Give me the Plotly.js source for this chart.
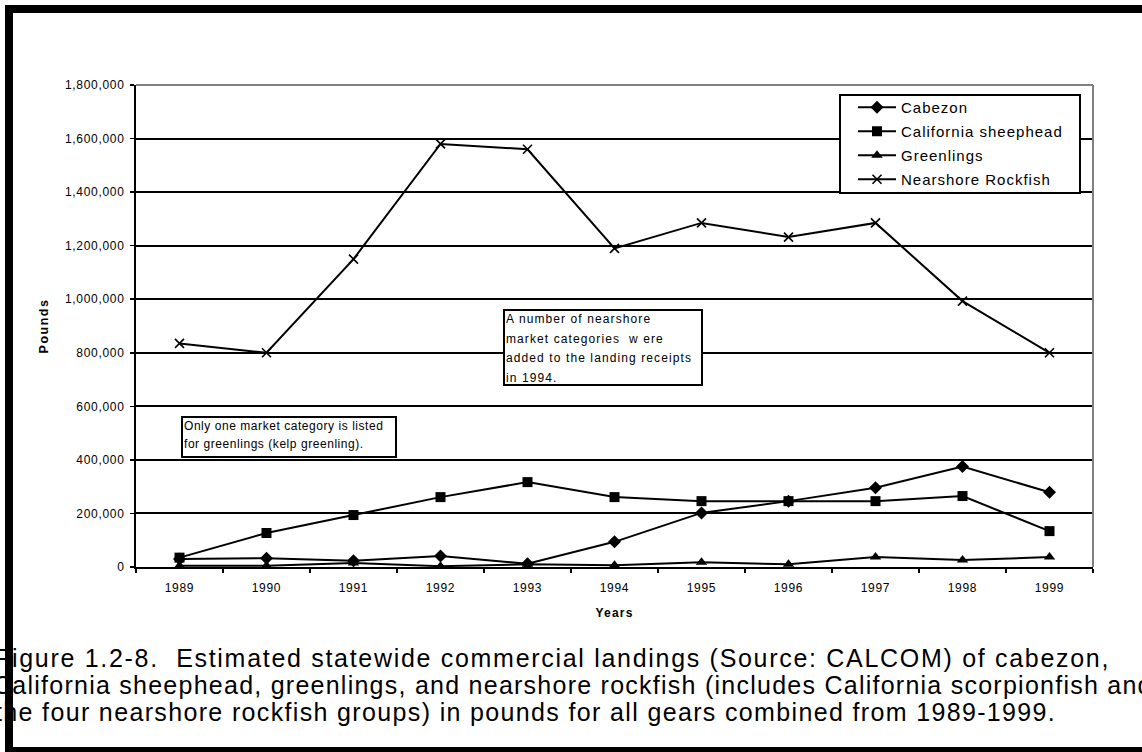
<!DOCTYPE html>
<html><head><meta charset="utf-8">
<script src="https://cdn.plot.ly/plotly-3.0.1.min.js"></script>
<style>
html,body{margin:0;padding:0;background:#fff;overflow:hidden;}
#wrap{position:relative;width:1142px;height:752px;overflow:hidden;}
#chart{position:absolute;left:0;top:0;width:1142px;height:752px;}
.bar{position:absolute;background:#000;pointer-events:none;z-index:10;}
.ytick text, .xtick text{letter-spacing:0.7px;}
</style></head><body>
<div id="wrap"><div id="chart"></div>
<div class="bar" style="left:5px;top:5px;width:1137px;height:8px"></div>
<div class="bar" style="left:5px;top:5px;width:8px;height:747px"></div>
<div class="bar" style="left:5px;top:747px;width:1137px;height:5px"></div>
</div>
<script>
var years = ['1989','1990','1991','1992','1993','1994','1995','1996','1997','1998','1999'];
var cabezon = [30000, 33000, 23000, 41000, 12000, 94000, 202000, 246000, 296000, 375000, 279000];
var sheephead = [35000, 127000, 194000, 261000, 317000, 261000, 246000, 246000, 246000, 265000, 134000];
var greenlings = [5000, 5000, 15000, 3000, 10000, 7000, 18000, 10000, 37000, 26000, 37000];
var rockfish = [835000, 800000, 1150000, 1580000, 1560000, 1190000, 1285000, 1232000, 1285000, 993000, 800000];
var seriesNames = ['Cabezon','California sheephead','Greenlings','Nearshore Rockfish'];
var yTicks = [0,200000,400000,600000,800000,1000000,1200000,1400000,1600000,1800000];
var note1 = ['A number of nearshore','market categories  w ere','added to the landing receipts','in 1994.'];
var note2 = ['Only one market category is listed','for greenlings (kelp greenling).'];
var caption = ['Figure 1.2-8.  Estimated statewide commercial landings (Source: CALCOM) of cabezon,',
  'California sheephead, greenlings, and nearshore rockfish (includes California scorpionfish and',
  'the four nearshore rockfish groups) in pounds for all gears combined from 1989-1999.'];

var FONT = 'Arial, "Liberation Sans", sans-serif';
function ls(s, v){return '<span style="letter-spacing:'+v+'px">'+s+'</span>';}
function tr(name, y, sym, size, grp){
  var m = {symbol: sym, size: size, color: '#000'};
  if (sym === 'x-thin') m.line = {width: 1.6, color: '#000'};
  return {x: years, y: y, name: ls(name, 1), type: 'scatter', mode: 'lines+markers',
    line: {color: '#000', width: 2}, marker: m, legendgroup: grp};
}
var data = [
  tr(seriesNames[0], cabezon, 'diamond', 10, 'a'),
  tr(seriesNames[1], sheephead, 'square', 10, 'b'),
  tr(seriesNames[2], greenlings, 'triangle-up', 10, 'c'),
  tr(seriesNames[3], rockfish, 'x-thin', 9, 'd')
];
var W = 957, H = 482, L = 136, T = 85;
function px(x){return (x - L)/W;}
function py(y){return (T + H - y)/H;}
function sp(lines, fs, v){
  return lines.map(function(s){return '<span style="font-size:'+fs+'px;letter-spacing:'+v+'px">'+s+'</span>';}).join('<br>');
}
var capSize = 25;
var capX = [-6, -8, -6];
var capLS = [1.7, 1.25, 1.35];
var capBase = [667, 694, 721];
var capAnn = caption.map(function(s, i){
  return {xref: 'paper', yref: 'paper', x: px(capX[i]), y: py(capBase[i] - 0.95*capSize), xanchor: 'left', yanchor: 'top',
    text: ls(s, capLS[i]), align: 'left', showarrow: false, borderpad: 0,
    font: {family: FONT, size: capSize, color: '#000'}};
});
var layout = {
  width: 1142, height: 752,
  margin: {l: L, r: 1142 - L - W, t: T, b: 752 - T - H, pad: 0},
  paper_bgcolor: '#fff', plot_bgcolor: '#fff',
  font: {family: FONT, color: '#000', size: 12},
  showlegend: true,
  legend: {x: px(853), y: py(91), xanchor: 'left', yanchor: 'top',
    bgcolor: 'rgba(0,0,0,0)', borderwidth: 0,
    font: {family: FONT, size: 15, color: '#000'}, tracegroupgap: 1.5, itemwidth: 38},
  xaxis: {type: 'category', range: [-0.5, 10.5], tickson: 'boundaries', ticks: 'outside',
    ticklen: 4, tickwidth: 1.5, tickcolor: '#000', showline: true, linecolor: '#000', linewidth: 2,
    showgrid: false, zeroline: false, tickfont: {family: FONT, size: 12, color: '#000'},
    ticklabelstandoff: 9,
    title: {text: '<b>' + ls('Years', 1.2) + '</b>', font: {family: FONT, size: 12, color: '#000'}, standoff: 14}},
  yaxis: {range: [0, 1800000], tickvals: yTicks, tickformat: ',d', ticks: 'outside', ticklen: 4,
    tickwidth: 1.5, tickcolor: '#000', showline: true, linecolor: '#000', linewidth: 2,
    showgrid: true, gridcolor: '#000', gridwidth: 2, zeroline: false,
    tickfont: {family: FONT, size: 12, color: '#000'}, ticklabelstandoff: 3,
    title: {text: '<b>' + ls('Pounds', 1.5) + '</b>', font: {family: FONT, size: 12.5, color: '#000'}, standoff: 14}},
  shapes: [
    {type: 'line', xref: 'paper', yref: 'paper', x0: 0, x1: 1, y0: 1, y1: 1, line: {color: '#808080', width: 2}, layer: 'above'},
    {type: 'line', xref: 'paper', yref: 'paper', x0: 1, x1: 1, y0: 0, y1: 1, line: {color: '#808080', width: 2}, layer: 'above'},
    {type: 'rect', xref: 'paper', yref: 'paper', x0: px(840), x1: px(1080), y0: py(193), y1: py(95),
     fillcolor: '#fff', line: {color: '#000', width: 2}, layer: 'above'}
  ],
  annotations: [
    {xref: 'paper', yref: 'paper', x: px(503), y: py(309), xanchor: 'left', yanchor: 'top',
     text: sp(note1, 12, 1.1), align: 'left', showarrow: false, bgcolor: '#fff',
     bordercolor: '#000', borderwidth: 2, borderpad: 1, width: 194, height: 71,
     font: {family: FONT, size: 15, color: '#000'}, valign: 'top'},
    {xref: 'paper', yref: 'paper', x: px(181), y: py(416), xanchor: 'left', yanchor: 'top',
     text: sp(note2, 12, 0.55), align: 'left', showarrow: false, bgcolor: '#fff',
     bordercolor: '#000', borderwidth: 2, borderpad: 1, width: 210, height: 36,
     font: {family: FONT, size: 14, color: '#000'}, valign: 'top'}
  ].concat(capAnn)
};
Plotly.newPlot('chart', data, layout, {displayModeBar: false, staticPlot: true});
</script>
</body></html>
